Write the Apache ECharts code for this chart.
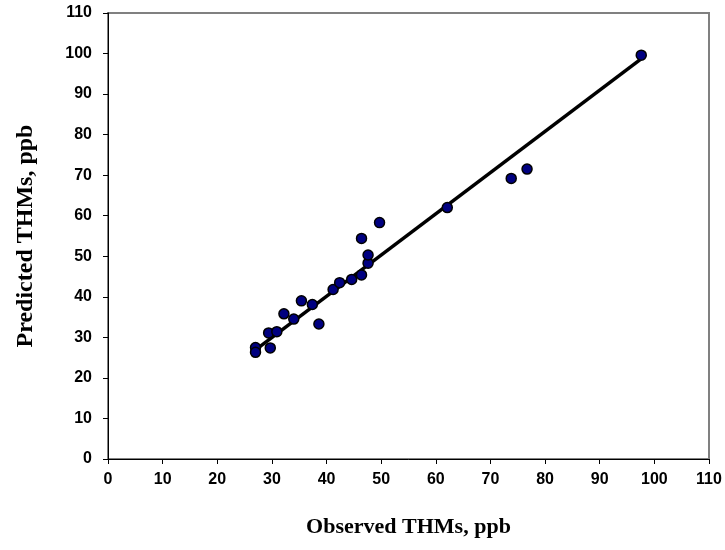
<!DOCTYPE html>
<html>
<head>
<meta charset="utf-8">
<script src="https://cdn.jsdelivr.net/npm/echarts@6/dist/echarts.min.js"></script>
<style>html,body{margin:0;padding:0;background:#fff}#c{width:725px;height:550px}</style>
</head>
<body>
<div id="c"></div>
<script>
var observed = [27.0, 27.0, 29.7, 29.4, 30.9, 32.2, 34.0, 35.4, 37.4, 38.6, 41.2, 42.4, 44.6, 46.4, 47.6, 47.6, 46.4, 49.7, 62.1, 73.8, 76.7, 97.6];
var predicted = [27.5, 26.3, 27.4, 31.1, 31.4, 35.8, 34.5, 39.0, 38.1, 33.3, 41.8, 43.5, 44.3, 45.4, 48.3, 50.3, 54.4, 58.3, 62.0, 69.2, 71.5, 99.6];
var fitX = [27.0, 97.4];
var fitY = [26.9, 98.5];
var xTitle = 'Observed THMs, ppb';
var yTitle = 'Predicted THMs, ppb';

var pts = observed.map(function (v, i) { return [v, predicted[i]]; });
var fit = fitX.map(function (v, i) { return [v, fitY[i]]; });

var chart = echarts.init(document.getElementById('c'));
var axisCommon = {
  type: 'value', min: 0, max: 110, interval: 10,
  nameLocation: 'middle',
  nameTextStyle: { fontFamily: 'Liberation Serif', fontWeight: 'bold', fontSize: 22, color: '#000' },
  axisLine: { show: true, onZero: false, lineStyle: { color: '#000', width: 1 } },
  axisTick: { show: true, inside: false, length: 5, lineStyle: { color: '#000' } },
  splitLine: { show: false },
  axisLabel: { fontFamily: 'Liberation Sans', fontWeight: 'bold', fontSize: 16, color: '#000' }
};
chart.setOption({
  animation: false,
  backgroundColor: '#fff',
  grid: { left: 108, right: 16, top: 13, bottom: 91, show: true, borderColor: '#808080', borderWidth: 2, backgroundColor: 'transparent' },
  xAxis: Object.assign({}, axisCommon, { name: xTitle, nameGap: 57, axisLabel: Object.assign({}, axisCommon.axisLabel, { margin: 13 }) }),
  yAxis: Object.assign({}, axisCommon, { name: yTitle, nameGap: 70, nameTextStyle: Object.assign({}, axisCommon.nameTextStyle, { fontSize: 24 }), axisLabel: Object.assign({}, axisCommon.axisLabel, { margin: 16 }) }),
  series: [
    { type: 'line', data: fit, symbol: 'none', lineStyle: { color: '#000', width: 3.5 }, z: 2 },
    { type: 'scatter', data: pts, symbol: 'circle', symbolSize: 10, itemStyle: { color: '#000080', borderColor: '#000', borderWidth: 1.5, opacity: 1 }, z: 3 }
  ]
});
</script>
</body>
</html>
